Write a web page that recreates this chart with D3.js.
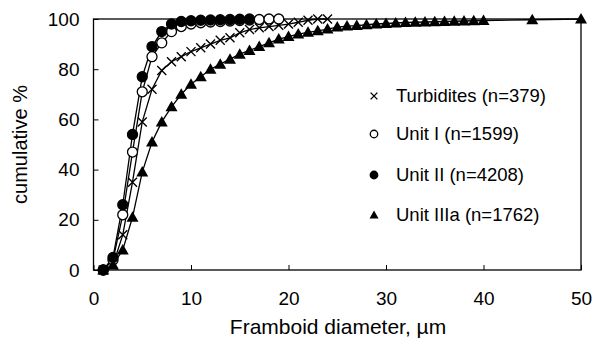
<!DOCTYPE html>
<html>
<head>
<meta charset="utf-8">
<script src="https://cdn.jsdelivr.net/npm/d3@7"></script>
<style>
  body { margin: 0; background: #fff; }
  svg text { font-family: "Liberation Sans", Arial, sans-serif; fill: #000; }
</style>
</head>
<body>
<svg id="chart" width="606" height="349"></svg>
<script>
// framboid diameters (µm) and cumulative % per unit
const turbX = [1, 2, 3, 4, 5, 6, 7, 8, 9, 10, 11, 12, 13, 14, 15, 16, 17, 18, 19, 20, 21, 22, 23, 24];
const turbY = [0, 2, 14, 35, 59, 72, 79.5, 83, 85, 87, 88.5, 90, 91.5, 92.5, 94.5, 95.8, 96.5, 97, 97.5, 98, 98.7, 99.5, 100, 100];

const unit1X = [1, 2, 3, 4, 5, 6, 7, 8, 9, 10, 11, 12, 13, 14, 15, 16, 17, 18, 19];
const unit1Y = [0, 4, 22, 47, 71, 85, 90.5, 95, 97, 98, 98.5, 98.8, 99, 99.2, 99.4, 99.6, 99.8, 100, 100];

const unit2X = [1, 2, 3, 4, 5, 6, 7, 8, 9, 10, 11, 12, 13, 14, 15, 16];
const unit2Y = [0, 5, 26, 54, 77, 89, 95, 98, 99, 99.3, 99.5, 99.6, 99.7, 99.8, 99.9, 100];

const unit3X = [1, 2, 3, 4, 5, 6, 7, 8, 9, 10, 11, 12, 13, 14, 15, 16, 17, 18, 19, 20,
  21, 22, 23, 24, 25, 26, 27, 28, 29, 30, 31, 32, 33, 34, 35, 36, 37, 38, 39, 40, 45, 50];
const unit3Y = [0, 2, 8, 21, 39, 51, 59, 65, 70, 74, 77, 80, 82, 84, 86, 87.5, 89, 90.5, 92, 93,
  94, 94.7, 95.3, 96, 96.8, 97.2, 97.4, 97.7, 98, 98.2, 98.4, 98.6, 98.7, 98.8, 98.9, 99, 99.1, 99.2, 99.3, 99.4, 99.7, 100];

const legendLabels = ["Turbidites (n=379)", "Unit I (n=1599)", "Unit II (n=4208)", "Unit IIIa (n=1762)"];
const xTicks = [0, 10, 20, 30, 40, 50];
const yTicks = [0, 20, 40, 60, 80, 100];

const svg = d3.select("#chart");
const plotLeft = 93.5, plotRight = 581, plotTop = 19, plotBottom = 270;

const x = d3.scaleLinear().domain([0, 50]).range([plotLeft, plotRight]);
const y = d3.scaleLinear().domain([0, 100]).range([plotBottom, plotTop]);

// plot frame
svg.append("rect")
  .attr("x", plotLeft).attr("y", plotTop)
  .attr("width", plotRight - plotLeft).attr("height", plotBottom - plotTop)
  .attr("fill", "none").attr("stroke", "#000").attr("stroke-width", 1.3);

// axes with inward ticks
const xAxis = svg.append("g")
  .attr("transform", `translate(0,${plotBottom})`)
  .call(d3.axisBottom(x).tickValues(xTicks).tickSize(-5).tickPadding(22));
const yAxis = svg.append("g")
  .attr("transform", `translate(${plotLeft},0)`)
  .call(d3.axisLeft(y).tickValues(yTicks).tickSize(-5).tickPadding(14));
[xAxis, yAxis].forEach(g => {
  g.select(".domain").remove();
  g.selectAll("line").attr("stroke", "#000");
  g.selectAll("text").attr("font-size", 19).attr("font-family", "Liberation Sans, Arial, sans-serif");
});

svg.append("text")
  .attr("x", 338).attr("y", 334)
  .attr("text-anchor", "middle")
  .attr("font-size", 21)
  .text("Framboid diameter, µm");

svg.append("text")
  .attr("transform", `translate(27,${(plotTop + plotBottom) / 2}) rotate(-90)`)
  .attr("text-anchor", "middle")
  .attr("font-size", 20)
  .text("cumulative %");

const line = d3.line().x(d => x(d[0])).y(d => y(d[1]));

const series = [
  { xs: turbX, ys: turbY, type: "cross" },
  { xs: unit1X, ys: unit1Y, type: "open" },
  { xs: unit2X, ys: unit2Y, type: "filled" },
  { xs: unit3X, ys: unit3Y, type: "triangle" }
];

function drawMarker(g, type, cx, cy, s) {
  if (type === "cross") {
    const h = 4.5 * s;
    g.append("path")
      .attr("d", `M${cx - h},${cy - h}L${cx + h},${cy + h}M${cx - h},${cy + h}L${cx + h},${cy - h}`)
      .attr("stroke", "#000").attr("stroke-width", 1.4);
  } else if (type === "open" || type === "filled") {
    g.append("circle")
      .attr("cx", cx).attr("cy", cy).attr("r", 5 * s)
      .attr("fill", type === "open" ? "#fff" : "#000")
      .attr("stroke", "#000").attr("stroke-width", 1.3);
  } else {
    const h = 6 * s;
    g.append("path")
      .attr("d", `M${cx},${cy - h}L${cx + h},${cy + h * 0.75}L${cx - h},${cy + h * 0.75}Z`)
      .attr("fill", "#000");
  }
}

series.forEach(s => {
  const pts = s.xs.map((v, i) => [v, s.ys[i]]);
  svg.append("path")
    .datum(pts)
    .attr("d", line)
    .attr("fill", "none")
    .attr("stroke", "#000")
    .attr("stroke-width", 1.3);
});

series.forEach(s => {
  const g = svg.append("g");
  s.xs.forEach((v, i) => drawMarker(g, s.type, x(v), y(s.ys[i]), 1));
});

// legend
const legendY = [96, 134, 175, 215];
legendLabels.forEach((lab, i) => {
  const g = svg.append("g");
  drawMarker(g, series[i].type, 374, legendY[i], 0.75);
  g.append("text")
    .attr("x", 396).attr("y", legendY[i])
    .attr("dy", "0.35em")
    .attr("font-size", 18.5)
    .text(lab);
});
</script>
</body>
</html>
